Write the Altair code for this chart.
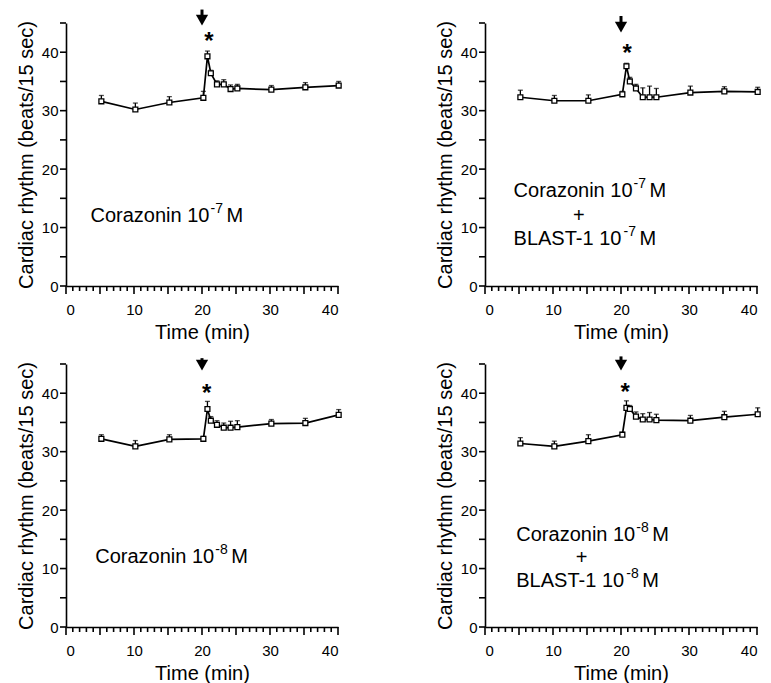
import altair as alt
import pandas as pd

# ---- data ----
time_min = [5.2, 10.2, 15.2, 20.2, 20.8, 21.3, 22.2, 23.2, 24.2, 25.2, 30.2, 35.2, 40.1]

mean_a = [31.6, 30.2, 31.4, 32.2, 39.3, 36.4, 34.5, 34.5, 33.7, 33.8, 33.6, 34.0, 34.3]
top_a = [32.6, 31.3, 32.4, 33.3, 40.2, 36.9, 35.1, 35.3, 34.4, 34.5, 34.3, 34.8, 35.0]

mean_b = [32.3, 31.7, 31.7, 32.8, 37.6, 35.0, 33.8, 32.3, 32.3, 32.3, 33.1, 33.3, 33.2]
top_b = [33.5, 32.6, 32.7, 33.3, 38.1, 35.7, 34.5, 33.9, 34.2, 33.8, 34.2, 34.1, 34.0]

mean_c = [32.2, 30.9, 32.1, 32.2, 37.3, 35.3, 34.6, 34.1, 34.1, 34.2, 34.8, 34.9, 36.3]
top_c = [32.9, 31.9, 32.9, 32.6, 38.6, 36.0, 35.3, 34.9, 35.2, 35.3, 35.5, 35.7, 37.2]

mean_d = [31.4, 30.9, 31.8, 32.9, 37.5, 37.3, 36.0, 35.5, 35.5, 35.4, 35.3, 35.9, 36.4]
top_d = [32.4, 31.8, 32.9, 33.3, 38.7, 37.9, 36.8, 36.5, 36.7, 36.4, 36.2, 36.9, 37.5]

# arrow (injection time) and significance star per panel
arrow_time = [20.0, 20.0, 20.0, 20.0]
arrow_top = [47.3, 46.2, 46.0, 46.3]
arrow_head = [44.6, 43.4, 43.9, 43.9]
star_time = [21.0, 20.9, 20.7, 20.6]
star_value = [42.4, 40.4, 40.5, 40.8]

# panel annotation texts: (main text, superscript, suffix), anchor in data units
label_main_a = ["Corazonin 10"]
label_sup_a = ["-7"]
label_suf_a = ["M"]
label_x_a = [3.6]
label_y_a = [11.9]

label_main_b = ["Corazonin 10", "+", "BLAST-1 10"]
label_sup_b = ["-7", "", "-7"]
label_suf_b = ["M", "", "M"]
label_x_b = [4.2, 13.8, 4.2]
label_y_b = [16.2, 12.0, 8.0]

label_main_c = ["Corazonin 10"]
label_sup_c = ["-8"]
label_suf_c = ["M"]
label_x_c = [4.3]
label_y_c = [11.9]

label_main_d = ["Corazonin 10", "+", "BLAST-1 10"]
label_sup_d = ["-8", "", "-8"]
label_suf_d = ["M", "", "M"]
label_x_d = [4.6, 14.2, 4.6]
label_y_d = [15.8, 11.8, 7.8]

x_minor = list(range(0, 41))
x_major = list(range(0, 41, 5))
y_ticks = list(range(0, 46, 5))
y_labels = list(range(0, 41, 10))

FONT = "Liberation Sans"
W, H = 272, 263
X_DOM, Y_DOM = 40.0, 45.0
# pixel offsets (text widths in Liberation Sans 20px) for superscript/suffix
TEXT_W = {"Corazonin 10": 119.0, "BLAST-1 10": 109.0}


def panel(means, tops, idx, mains, sups, sufs, lx, ly):
    df = pd.DataFrame({"t": time_min, "m": means, "top": tops})
    x_axis = alt.Axis(values=x_major, title="Time (min)", labelOverlap=False,
                      ticks=False, labelPadding=16, titlePadding=5, grid=False)
    y_axis = alt.Axis(values=y_labels, title="Cardiac rhythm (beats/15 sec)", labelOverlap=False,
                      ticks=False, labelPadding=8, titlePadding=5, grid=False)
    xs = alt.Scale(domain=[0, 40], nice=False)
    ys = alt.Scale(domain=[0, 45], nice=False)
    base = alt.Chart(df)
    line = base.mark_line(color="black", strokeWidth=1.7).encode(
        x=alt.X("t:Q", scale=xs, axis=x_axis), y=alt.Y("m:Q", scale=ys, axis=y_axis))
    err = base.mark_rule(color="black", strokeWidth=1.3).encode(x="t:Q", y="m:Q", y2="top:Q")
    cap = base.mark_tick(color="black", thickness=1.3, size=5, orient="horizontal").encode(x="t:Q", y="top:Q")
    pts = base.mark_point(shape="square", filled=True, fill="white", stroke="black",
                          strokeWidth=1.3, size=24, opacity=1).encode(x="t:Q", y="m:Q")

    # axis tick marks drawn through the scales (lengths in px converted to data units)
    mdf = pd.DataFrame({"t": x_minor, "y0": [0.0] * len(x_minor),
                        "y1": [-(8 if v % 5 == 0 else 5) * Y_DOM / H for v in x_minor]})
    xt = alt.Chart(mdf).mark_rule(color="black", strokeWidth=1.6).encode(x="t:Q", y="y0:Q", y2="y1:Q")
    ydf = pd.DataFrame({"m": y_ticks, "x0": [0.0] * len(y_ticks),
                        "x1": [-6 * X_DOM / W] * len(y_ticks)})
    yt = alt.Chart(ydf).mark_rule(color="black", strokeWidth=1.6).encode(y="m:Q", x="x0:Q", x2="x1:Q")

    adf = pd.DataFrame({"t": [arrow_time[idx]], "a1": [arrow_top[idx]], "a2": [arrow_head[idx] + 0.9],
                        "h": [arrow_head[idx] + 0.9],
                        "st": [star_time[idx]], "sv": [star_value[idx]]})
    shaft = alt.Chart(adf).mark_rule(color="black", strokeWidth=3).encode(x="t:Q", y="a1:Q", y2="a2:Q")
    head = alt.Chart(adf).mark_point(shape="triangle-down", filled=True, color="black",
                                     size=150, opacity=1).encode(x="t:Q", y="h:Q")
    star = alt.Chart(adf).mark_text(text="*", font=FONT, fontSize=24, fontWeight="bold",
                                    baseline="middle", dy=4, color="black").encode(x="st:Q", y="sv:Q")

    texts = []
    for mt, sp, sf, x0, y0 in zip(mains, sups, sufs, lx, ly):
        d = pd.DataFrame({"x": [x0], "y": [y0], "main": [mt], "sup": [sp], "suf": [sf]})
        if sp:
            w = TEXT_W[mt]
            texts.append(alt.Chart(d).mark_text(font=FONT, fontSize=20, align="left", baseline="middle",
                                                color="black").encode(x="x:Q", y="y:Q", text="main:N"))
            texts.append(alt.Chart(d).mark_text(font=FONT, fontSize=14, align="left", baseline="middle",
                                                dx=w + 1, dy=-7, color="black").encode(x="x:Q", y="y:Q", text="sup:N"))
            texts.append(alt.Chart(d).mark_text(font=FONT, fontSize=20, align="left", baseline="middle",
                                                dx=w + 17, color="black").encode(x="x:Q", y="y:Q", text="suf:N"))
        else:
            texts.append(alt.Chart(d).mark_text(font=FONT, fontSize=20, align="center", baseline="middle",
                                                color="black").encode(x="x:Q", y="y:Q", text="main:N"))

    return alt.layer(line, err, cap, pts, xt, yt, shaft, head, star, *texts).properties(
        width=W, height=H)


pa = panel(mean_a, top_a, 0, label_main_a, label_sup_a, label_suf_a, label_x_a, label_y_a)
pb = panel(mean_b, top_b, 1, label_main_b, label_sup_b, label_suf_b, label_x_b, label_y_b)
pc = panel(mean_c, top_c, 2, label_main_c, label_sup_c, label_suf_c, label_x_c, label_y_c)
pd_ = panel(mean_d, top_d, 3, label_main_d, label_sup_d, label_suf_d, label_x_d, label_y_d)

chart = alt.vconcat(
    alt.hconcat(pa, pb, spacing=91),
    alt.hconcat(pc, pd_, spacing=91),
    spacing=12,
).properties(
    padding={"left": 8, "top": 0, "right": 0, "bottom": 0},
    background="white",
).configure_view(stroke=None).configure_axis(
    domainColor="black", domainWidth=1.6,
    labelColor="black", titleColor="black", labelFont=FONT, titleFont=FONT,
    labelFontSize=15, titleFontSize=20, titleFontWeight="normal"
)

chart.save("out.html", embed_options={"renderer": "svg", "actions": False})
